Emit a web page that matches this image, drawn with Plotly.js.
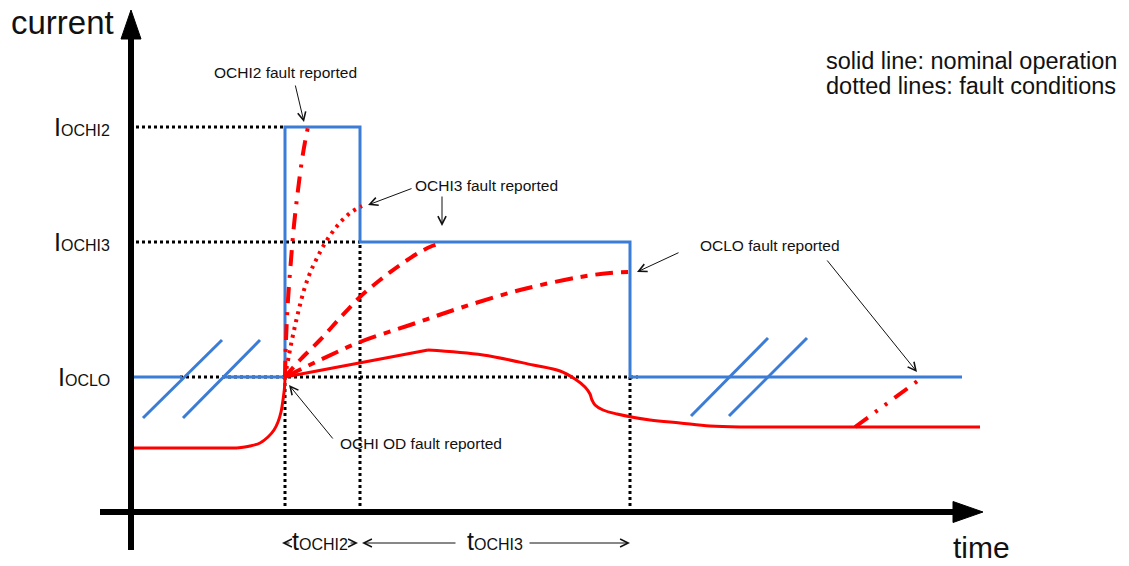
<!DOCTYPE html>
<html><head><meta charset="utf-8">
<script src="https://cdn.plot.ly/plotly-3.0.1.min.js"></script>
<style>html,body{margin:0;padding:0;background:#fff}#chart{width:1129px;height:566px}</style>
</head><body><div id="chart"></div>
<script>
// ---- data (time units / current units, origin at the axes crossing) ----
const levelLabels = ['OCHI2', 'OCHI3', 'OCLO'];
const levelValues = [385, 270, 135];          // I_OCHI2, I_OCHI3, I_OCLO
const eventTimes = [155, 230, 500];           // fault start, end tOCHI2, end tOCHI3

// nominal (blue) threshold profile
const nominalTime    = [0, 52, null, 92, 155, 155, 230, 230, 500, 500, 832];
const nominalCurrent = [135, 135, null, 135, 135, 385, 385, 270, 270, 135, 135];

// axis-break marks
const breakTime    = [13, 92, null, 53, 130, null, 561, 638, null, 599, 677];
const breakCurrent = [94, 172, null, 94, 172, null, 96, 174, null, 96, 174];

// dotted reference lines
const refTime    = [0, 155, null, 0, 230, null, 50, 508, null, 155, 155, null, 230, 230, null, 500, 500];
const refCurrent = [385, 385, null, 270, 270, null, 135, 135, null, 0, 135, null, 0, 270, null, 0, 135];

// nominal current (solid red)
const nomFlatTime = [0, 107];
const nomFlatCurrent = [64, 64];
const nomRiseTime = [107, 120, 130, 138, 144, 148, 151, 153, 154.5, 155];
const nomRiseCurrent = [64, 66, 69, 75, 82, 90, 100, 112, 124, 135];
const nomRampTime = [155, 298];
const nomRampCurrent = [135, 162];
const nomFallTime = [298, 353, 403, 430, 445, 455, 460, 462, 465, 473, 487, 520, 550, 580, 610];
const nomFallCurrent = [162, 157, 147, 141, 133, 125, 118, 112, 107, 102, 98, 92, 89, 86, 85];
const nomTailTime = [610, 850];
const nomTailCurrent = [85, 85];

// fault currents
const ochi2Time = [155, 156, 158, 161, 164, 168, 172, 175, 178];
const ochi2Current = [135, 172, 212, 252, 287, 322, 352, 370, 385];
const ochi3OverTime = [155, 159, 163, 168, 174, 180, 188, 197, 208, 220, 232];
const ochi3OverCurrent = [135, 157, 177, 199, 222, 239, 256, 272, 287, 299, 306];
const ochi3Time = [155, 170, 190, 210, 230, 250, 270, 290, 302, 312];
const ochi3Current = [135, 152, 172, 194, 215, 232, 247, 260, 266, 269];
const ocloTime = [155, 190, 230, 280, 330, 390, 450, 480, 500];
const ocloCurrent = [135, 152, 170, 187, 204, 222, 235, 239, 240];
const ocloLateTime = [725, 793];
const ocloLateCurrent = [85, 135];

// axes
const xAxisTime = [-30, 826];
const xAxisCurrent = [0, 0];
const xHeadTime = [823, 853, 823, 823];
const xHeadCurrent = [-10.5, 0, 10.5, -10.5];
const yAxisTime = [1, 1];
const yAxisCurrent = [-38, 476];
const yHeadTime = [-9, 1, 11, -9];
const yHeadCurrent = [473, 502, 473, 473];

// annotation texts
const faultTexts = ['OCHI2 fault reported', 'OCHI3 fault reported', 'OCLO fault reported', 'OCHI OD fault reported'];
const faultTextTime = [155, 356, 640, 291];
const faultTextCurrent = [440, 327, 267, 69];
// arrows: tail -> tip
const arrowTailTime = [165, 283, 312, 550, 696, 204];
const arrowTailCurrent = [428, 324, 317, 260, 253, 72];
const arrowTipTime = [174, 238, 312, 507, 787, 159];
const arrowTipCurrent = [390, 307, 286, 240, 140, 127];
// duration arrows under the time axis
const durTailTime = [161, 219, 327, 398];
const durTipTime = [152, 228, 232, 500];
const durCurrent = -31;
const durLabels = ['OCHI2', 'OCHI3'];
const durLabelTime = [189.5, 364.5];

const legendLines = ['solid line: nominal operation', 'dotted lines: fault conditions'];

// ---- drawing ----
const FONT = 'Liberation Sans, Arial, sans-serif';
const BLUE = '#3B7CD6', RED = '#FF0000';

function line(x, y, color, width, dash, shape) {
  return {x, y, type: 'scatter', mode: 'lines', hoverinfo: 'skip',
          line: {color, width, dash: dash || 'solid', shape: shape || 'linear', smoothing: 1}};
}
function fillTri(x, y, color) {
  return {x, y, type: 'scatter', mode: 'lines', fill: 'toself', fillcolor: color,
          line: {color, width: 1}, hoverinfo: 'skip'};
}

const traces = [
  line(refTime, refCurrent, '#000', 3, '3px,3px'),
  line(nominalTime, nominalCurrent, BLUE, 3),
  line(breakTime, breakCurrent, BLUE, 3),
  line(nomFlatTime, nomFlatCurrent, RED, 3),
  line(nomRiseTime, nomRiseCurrent, RED, 3, 'solid', 'spline'),
  line(nomRampTime, nomRampCurrent, RED, 3),
  line(nomFallTime, nomFallCurrent, RED, 3, 'solid', 'spline'),
  line(nomTailTime, nomTailCurrent, RED, 3),
  line(ochi2Time, ochi2Current, RED, 4, '16px,9px,3px,9px', 'spline'),
  line(ochi3OverTime, ochi3OverCurrent, RED, 4, '3px,5px', 'spline'),
  line(ochi3Time, ochi3Current, RED, 4, '13px,8px', 'spline'),
  line(ocloTime, ocloCurrent, RED, 4, '18px,8px,7px,8px', 'spline'),
  line(ocloLateTime, ocloLateCurrent, RED, 4, '16px,9px,3px,9px,3px,9px'),
  line(xAxisTime, xAxisCurrent, '#000', 6),
  line(yAxisTime, yAxisCurrent, '#000', 6),
  fillTri(xHeadTime, xHeadCurrent, '#000'),
  fillTri(yHeadTime, yHeadCurrent, '#000')
];

const annotations = [];
const txt = (text, x, y, size, xanchor, extra) => Object.assign({
  text, x, y, xref: 'x', yref: 'y', showarrow: false, xanchor: xanchor || 'center', yanchor: 'middle',
  font: {family: FONT, size, color: '#111'}}, extra || {});

// level labels
levelLabels.forEach((lab, i) => {
  annotations.push(txt('I<span style="font-size:16px">' + lab + '</span>', -18, levelValues[i], 25, 'right'));
});
// fault texts
faultTexts.forEach((t, i) => annotations.push(txt(t, faultTextTime[i], faultTextCurrent[i], 15.5)));
// arrows
arrowTipTime.forEach((tx, i) => annotations.push({
  text: '', x: tx, y: arrowTipCurrent[i], ax: arrowTailTime[i], ay: arrowTailCurrent[i],
  xref: 'x', yref: 'y', axref: 'x', ayref: 'y', showarrow: true, arrowhead: 5, arrowsize: 1.6,
  arrowwidth: 1, arrowcolor: '#111', standoff: 0, startstandoff: 0}));
durTipTime.forEach((tx, i) => annotations.push({
  text: '', x: tx, y: durCurrent, ax: durTailTime[i], ay: durCurrent,
  xref: 'x', yref: 'y', axref: 'x', ayref: 'y', showarrow: true, arrowhead: 5, arrowsize: 1.6,
  arrowwidth: 1, arrowcolor: '#111', standoff: 0, startstandoff: 0}));
durLabels.forEach((lab, i) => annotations.push(
  txt('t<span style="font-size:16px">' + lab + '</span>', durLabelTime[i], -29, 25)));
// axis names
annotations.push(txt('current', -121, 490, 33, 'left'));
annotations.push(txt('time', 851, -35, 30));
// legend note
annotations.push(txt(legendLines[0], 694, 451, 23.5, 'left'));
annotations.push(txt(legendLines[1], 694, 426, 23.5, 'left'));

const layout = {
  width: 1129, height: 566, margin: {l: 0, r: 0, t: 0, b: 0, pad: 0},
  paper_bgcolor: '#fff', plot_bgcolor: '#fff', showlegend: false, hovermode: false,
  xaxis: {range: [-130, 999], visible: false, showgrid: false, zeroline: false},
  yaxis: {range: [-54, 512], visible: false, showgrid: false, zeroline: false},
  annotations
};
Plotly.newPlot('chart', traces, layout, {staticPlot: true, displayModeBar: false});
</script></body></html>
